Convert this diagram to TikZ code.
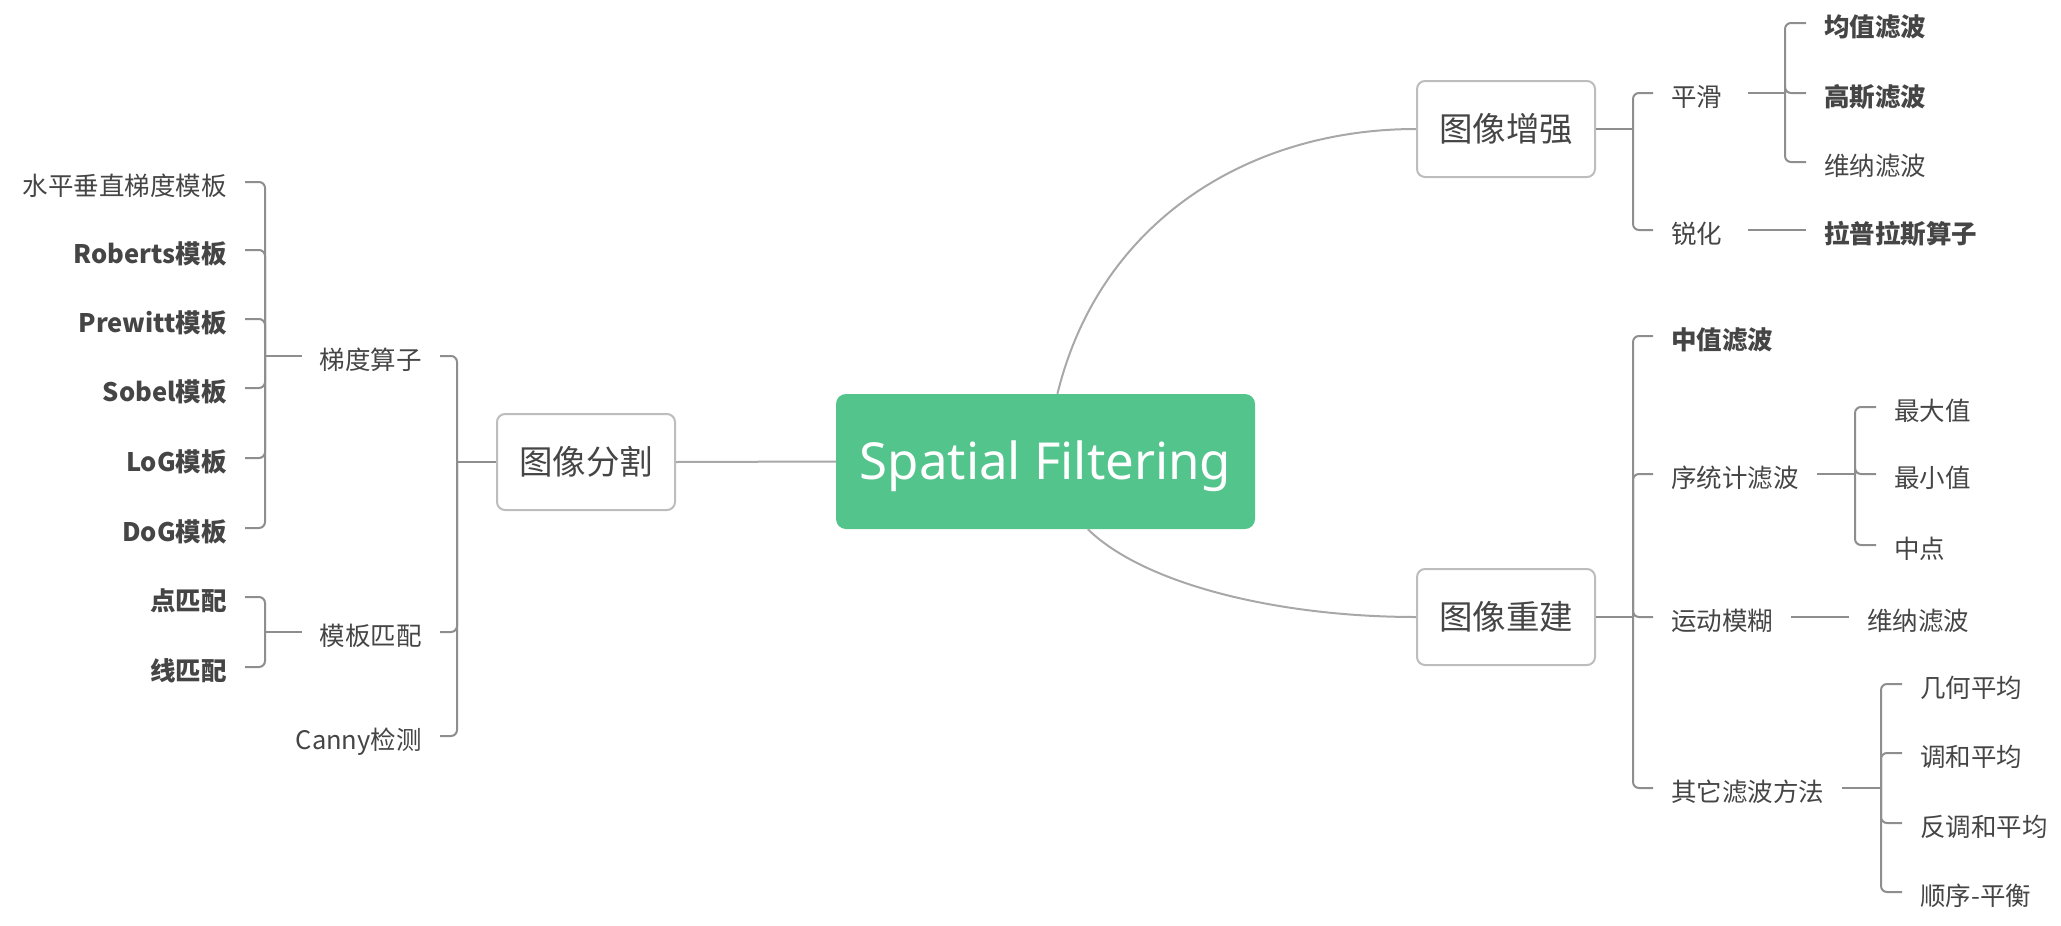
\documentclass[tikz,border=0pt]{standalone}
\usepackage{fontspec}
\setmainfont{Noto Sans CJK SC}
\newfontfamily\rootfont{Noto Sans}

\definecolor{rootgreen}{HTML}{52C48C}
\definecolor{inkgray}{HTML}{454545}
\definecolor{linegray}{HTML}{8E8E8E}
\definecolor{curvegray}{HTML}{A8A8A8}
\definecolor{boxgray}{HTML}{BDBDBD}

\tikzset{
  root/.style={fill=rootgreen, rounded corners=10pt, minimum width=419pt,
    minimum height=135pt, text=white, text height=36.5pt, text depth=0pt,
    font=\rootfont\fontsize{51}{60}\selectfont},
  topic/.style={draw=boxgray, line width=2pt, rounded corners=8pt, fill=white,
    minimum width=178pt, minimum height=96pt, text=inkgray,
    font=\fontsize{33.5}{40}\selectfont},
  leaf/.style={text=inkgray, inner xsep=18pt, inner ysep=0pt, text height=27.5pt,
    text depth=0pt, font=\fontsize{25.5}{30}\selectfont},
  hot/.style={leaf, font=\bfseries\fontsize{25.5}{30}\selectfont},
  link/.style={draw=linegray, line width=2pt, rounded corners=6pt},
  branch/.style={draw=curvegray, line width=2pt},
}

\begin{document}
\begin{tikzpicture}[x=1pt,y=-1pt]
\useasboundingbox (0,0) rectangle (2061,926);

\node[root] (root) at (1045.5,461.5) {Spatial Filtering};
\node[topic] (seg) at (586,462) {图像分割};
\node[topic] (enh) at (1506,129) {图像增强};
\node[topic] (rec) at (1506,617) {图像重建};

\draw[branch] (seg.east) -- (root.west);
\draw[branch] (root.80) .. controls (1100,220) and (1250,129) .. (enh.west);
\draw[branch] (root.-58) .. controls (1145,585) and (1280,617) .. (rec.west);

% left: segmentation
\node[leaf,anchor=east] (grad) at (440,356) {梯度算子};
\node[leaf,anchor=east] (tmatch) at (440,632) {模板匹配};
\node[leaf,anchor=east] (canny) at (440,736) {Canny检测};
\coordinate (segj) at (457,462);
\draw[link] (seg.west) -- (segj);
\foreach \c in {grad,tmatch,canny}
  \draw[link] (segj) |- (\c.east);

\node[leaf,anchor=east] (hvgrad) at (245,182) {水平垂直梯度模板};
\node[hot,anchor=east] (roberts) at (245,250) {Roberts模板};
\node[hot,anchor=east] (prewitt) at (245,319) {Prewitt模板};
\node[hot,anchor=east] (sobel) at (245,388) {Sobel模板};
\node[hot,anchor=east] (logt) at (245,458) {LoG模板};
\node[hot,anchor=east] (dogt) at (245,528) {DoG模板};
\coordinate (gradj) at (265,356);
\draw[link] (grad.west) -- (gradj);
\foreach \c in {hvgrad,roberts,prewitt,sobel,logt,dogt}
  \draw[link] (gradj) |- (\c.east);

\node[hot,anchor=east] (ptm) at (245,597) {点匹配};
\node[hot,anchor=east] (lnm) at (245,667) {线匹配};
\coordinate (tmj) at (265,632);
\draw[link] (tmatch.west) -- (tmj);
\foreach \c in {ptm,lnm}
  \draw[link] (tmj) |- (\c.east);

% right top: enhancement
\node[leaf,anchor=west,text width=59pt] (smooth) at (1653,93) {平滑};
\node[leaf,anchor=west,text width=59pt] (sharp) at (1653,230) {锐化};
\coordinate (enhj) at (1633,129);
\draw[link] (enh.east) -- (enhj);
\foreach \c in {smooth,sharp}
  \draw[link] (enhj) |- (\c.west);

\node[hot,anchor=west] (mean) at (1806,23) {均值滤波};
\node[hot,anchor=west] (gauss) at (1806,93) {高斯滤波};
\node[leaf,anchor=west] (wiener) at (1806,162) {维纳滤波};
\coordinate (smj) at (1785,93);
\draw[link] (smooth.east) -- (smj);
\foreach \c in {mean,gauss,wiener}
  \draw[link] (smj) |- (\c.west);

\node[hot,anchor=west] (lapl) at (1806,230) {拉普拉斯算子};
\draw[link] (sharp.east) -- (lapl.west);

% right bottom: restoration
\node[hot,anchor=west] (median) at (1653,336) {中值滤波};
\node[leaf,anchor=west] (order) at (1653,474) {序统计滤波};
\node[leaf,anchor=west] (motion) at (1653,617) {运动模糊};
\node[leaf,anchor=west] (other) at (1653,788) {其它滤波方法};
\coordinate (recj) at (1633,617);
\draw[link] (rec.east) -- (recj);
\foreach \c in {median,order,motion,other}
  \draw[link] (recj) |- (\c.west);

\node[leaf,anchor=west] (maxv) at (1876,407) {最大值};
\node[leaf,anchor=west] (minv) at (1876,474) {最小值};
\node[leaf,anchor=west] (midp) at (1876,545) {中点};
\coordinate (ordj) at (1855,474);
\draw[link] (order.east) -- (ordj);
\foreach \c in {maxv,minv,midp}
  \draw[link] (ordj) |- (\c.west);

\node[leaf,anchor=west] (wiener2) at (1849,617) {维纳滤波};
\draw[link] (motion.east) -- (wiener2.west);

\node[leaf,anchor=west] (geo) at (1902,684) {几何平均};
\node[leaf,anchor=west] (harm) at (1902,753) {调和平均};
\node[leaf,anchor=west] (charm) at (1902,823) {反调和平均};
\node[leaf,anchor=west] (alpha) at (1902,892) {顺序-平衡};
\coordinate (otherj) at (1881,788);
\draw[link] (other.east) -- (otherj);
\foreach \c in {geo,harm,charm,alpha}
  \draw[link] (otherj) |- (\c.west);
\end{tikzpicture}
\end{document}
